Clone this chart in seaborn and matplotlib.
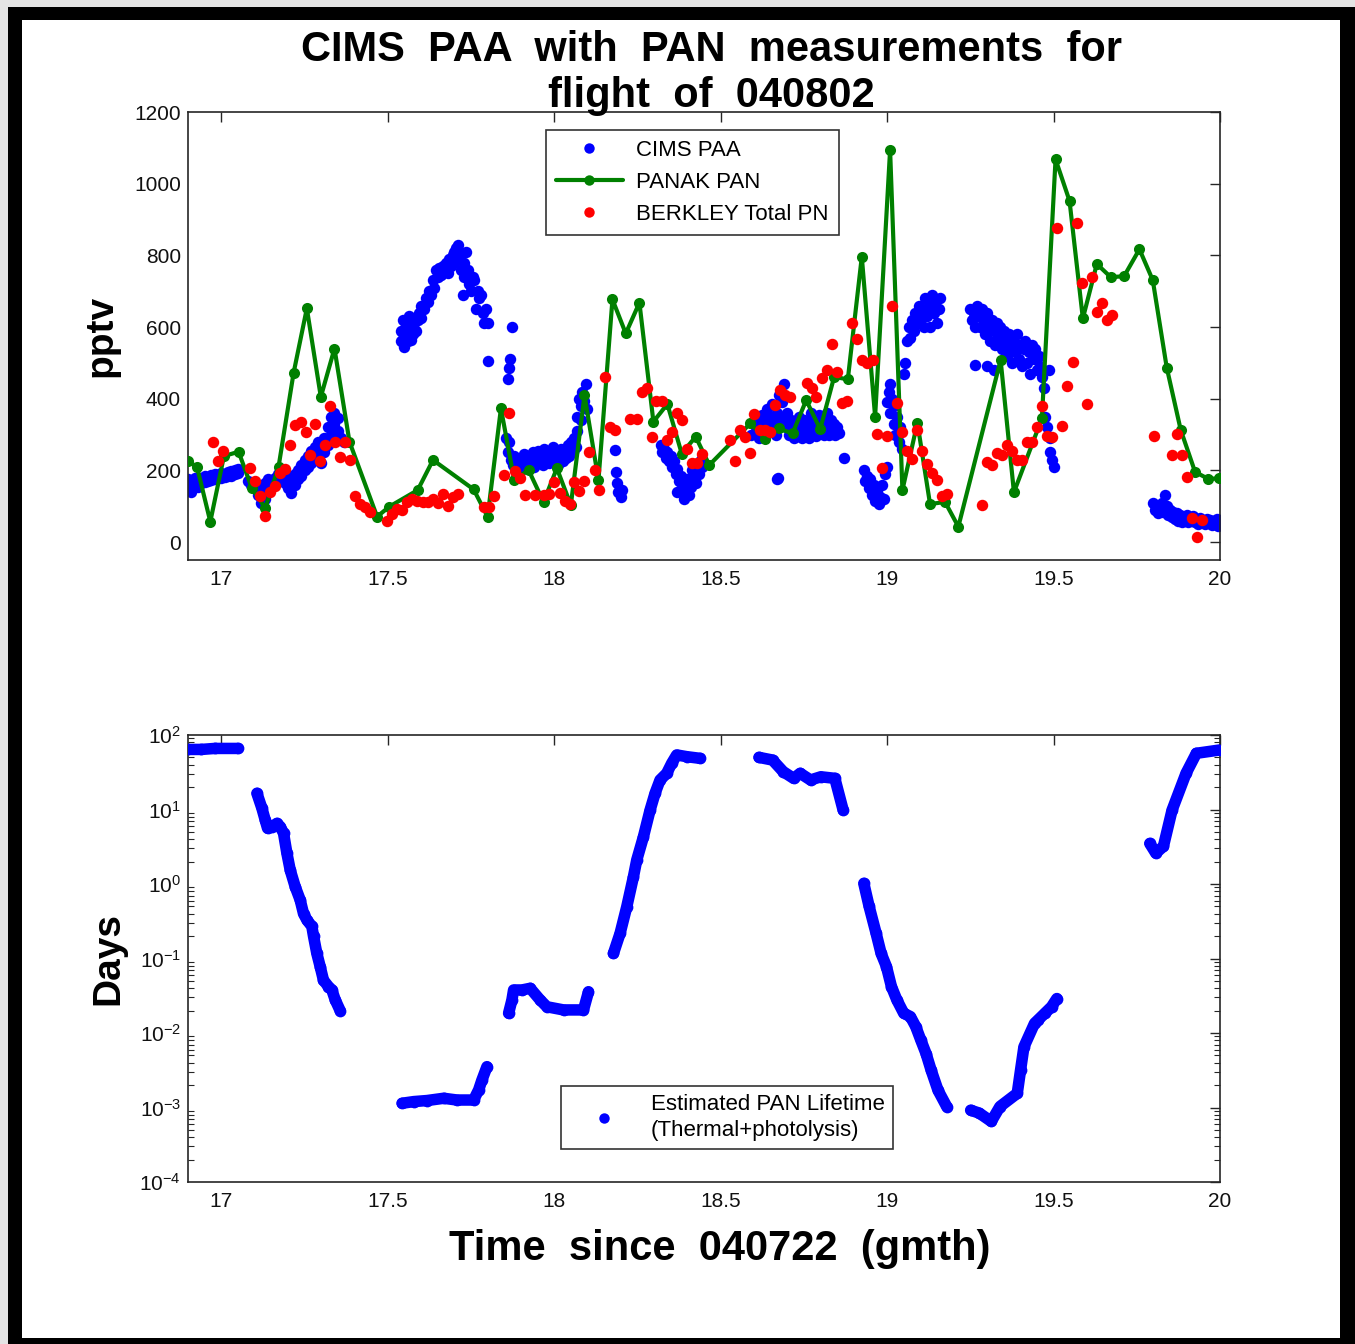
import numpy as np
import pandas as pd
import matplotlib
matplotlib.use("Agg")
import matplotlib.pyplot as plt
from matplotlib.lines import Line2D
from matplotlib.patches import Rectangle
from matplotlib.ticker import FixedLocator, FixedFormatter, LogLocator, NullFormatter
import seaborn as sns

# ---------------- data ----------------
# CIMS PAA (pptv) vs time since 040722 (hours, gmt)
paa_time = [
    16.90, 16.90, 16.91, 16.91, 16.92, 16.92, 16.93, 16.93, 16.94, 16.94, 16.95, 16.95,
    16.96, 16.96, 16.97, 16.97, 16.98, 16.98, 16.99, 16.99, 17.00, 17.00, 17.01, 17.01,
    17.02, 17.02, 17.03, 17.03, 17.04, 17.04, 17.05, 17.05,
    17.08, 17.09, 17.10, 17.11, 17.12, 17.12, 17.13, 17.13, 17.14, 17.14, 17.15, 17.16,
    17.17, 17.17, 17.18, 17.19, 17.19, 17.20, 17.20, 17.21, 17.21, 17.22, 17.22, 17.23,
    17.23, 17.24, 17.24, 17.25, 17.25, 17.26, 17.26, 17.27, 17.27, 17.28, 17.28, 17.29,
    17.29, 17.30, 17.30, 17.31, 17.31, 17.32, 17.32, 17.33, 17.33, 17.34, 17.34, 17.35,
    17.35, 17.36, 17.37,
    17.54, 17.54, 17.545, 17.55, 17.55, 17.555, 17.56, 17.56, 17.565, 17.57, 17.57, 17.575,
    17.58, 17.585, 17.59, 17.595, 17.60, 17.60, 17.61, 17.615, 17.62, 17.625, 17.63, 17.635,
    17.64, 17.645, 17.65, 17.655, 17.66, 17.665, 17.67, 17.675, 17.68, 17.685, 17.69, 17.695,
    17.70, 17.70, 17.705, 17.71, 17.71, 17.715, 17.72, 17.72, 17.725, 17.73, 17.73, 17.735,
    17.74, 17.745, 17.75, 17.755, 17.76, 17.765, 17.77, 17.775, 17.78, 17.785, 17.79, 17.795,
    17.80, 17.80, 17.86, 17.865, 17.868, 17.873,
    17.855, 17.86, 17.865, 17.87, 17.875, 17.88, 17.885, 17.89, 17.895, 17.90, 17.905, 17.91,
    17.915, 17.92, 17.925, 17.93, 17.935, 17.94, 17.945, 17.95, 17.955, 17.96, 17.965, 17.97,
    17.975, 17.98, 17.985, 17.99, 17.995, 18.00, 18.005, 18.01, 18.015, 18.02, 18.025, 18.03,
    18.035, 18.04, 18.045, 18.05, 18.055, 18.06, 18.065, 18.07, 18.075, 18.08, 18.085, 18.09,
    18.095, 18.10, 18.08, 18.07,
    18.183, 18.186, 18.19, 18.193, 18.20, 18.203,
    18.32, 18.325, 18.33, 18.335, 18.34, 18.345, 18.35, 18.355, 18.36, 18.365, 18.37, 18.375,
    18.38, 18.385, 18.39, 18.395, 18.40, 18.405, 18.41, 18.415, 18.42, 18.425, 18.43, 18.435,
    18.44, 18.445, 18.37, 18.39,
    18.59, 18.60, 18.605, 18.61, 18.615, 18.62, 18.625, 18.63, 18.635, 18.64, 18.645, 18.65,
    18.655, 18.66, 18.665, 18.67, 18.675, 18.68, 18.685, 18.69, 18.695, 18.70, 18.705, 18.71,
    18.715, 18.72, 18.725, 18.73, 18.735, 18.74, 18.745, 18.75, 18.755, 18.76, 18.765, 18.77,
    18.775, 18.78, 18.785, 18.79, 18.795, 18.80, 18.805, 18.81, 18.815, 18.82, 18.825, 18.83,
    18.835, 18.84, 18.845, 18.85, 18.855, 18.668, 18.672, 18.87,
    18.93, 18.935, 18.94, 18.945, 18.95, 18.955, 18.96, 18.965, 18.97, 18.975, 18.98, 18.985,
    18.99, 18.995, 19.00, 19.00, 19.005, 19.01, 19.01, 19.015, 19.02, 19.02, 19.025, 19.03,
    19.035, 19.04, 19.045, 19.05, 19.055, 19.06, 19.065, 19.07, 19.075, 19.08, 19.085, 19.09,
    19.095, 19.10, 19.105, 19.11, 19.115, 19.12, 19.125, 19.13, 19.135, 19.14, 19.145, 19.15,
    19.155, 19.16,
    19.25, 19.255, 19.26, 19.265, 19.265, 19.27, 19.275, 19.28, 19.285, 19.29, 19.295, 19.30,
    19.305, 19.31, 19.315, 19.32, 19.325, 19.33, 19.335, 19.34, 19.345, 19.35, 19.355, 19.36,
    19.365, 19.37, 19.375, 19.38, 19.385, 19.39, 19.395, 19.40, 19.405, 19.41, 19.415, 19.42,
    19.425, 19.43, 19.435, 19.44, 19.445, 19.45, 19.455, 19.46, 19.465, 19.47, 19.475, 19.48,
    19.485, 19.49, 19.49, 19.495, 19.50, 19.30, 19.32,
    19.80, 19.805, 19.81, 19.815, 19.82, 19.825, 19.83, 19.835, 19.84, 19.845, 19.85, 19.855,
    19.86, 19.865, 19.87, 19.875, 19.88, 19.885, 19.89, 19.895, 19.90, 19.905, 19.91, 19.915,
    19.92, 19.925, 19.93, 19.935, 19.94, 19.945, 19.95, 19.955, 19.96, 19.965, 19.97, 19.975,
    19.98, 19.985, 19.99, 19.995, 20.00,
]
paa_pptv = [
    150, 175, 140, 165, 160, 180, 155, 172, 165, 180, 168, 185,
    170, 182, 172, 188, 175, 190, 178, 185, 180, 192, 182, 190,
    185, 195, 185, 198, 190, 200, 192, 205,
    170, 160, 150, 130, 110, 150, 120, 165, 150, 175, 165, 180,
    170, 190, 175, 165, 195, 150, 185, 136, 170, 160, 190, 175,
    200, 185, 215, 200, 229, 210, 240, 220, 255, 230, 265, 240,
    280, 220, 255, 250, 290, 270, 320, 300, 350, 330, 360, 310,
    345, 290, 280,
    560, 590, 620, 545, 575, 605, 560, 590, 630, 565, 600, 580,
    610, 590, 620, 640, 625, 660, 650, 680, 670, 700, 690, 730,
    710, 760, 740, 765, 745, 770, 760, 780, 750, 790, 770, 800,
    780, 810, 820, 790, 829, 810, 760, 800, 690, 740, 780, 810,
    760, 720, 700, 740, 730, 650, 700, 680, 690, 640, 610, 650,
    505, 610, 455, 485, 510, 600,
    290, 250, 280, 230, 215, 240, 210, 225, 200, 235, 215, 245,
    220, 205, 240, 225, 250, 210, 235, 255, 225, 245, 215, 260,
    230, 250, 220, 240, 265, 230, 250, 215, 240, 260, 225, 255,
    235, 270, 240, 280, 250, 290, 265, 310, 400, 380, 420, 395,
    440, 370, 340, 350,
    257, 196, 165, 140, 125, 145,
    270, 250, 260, 235, 250, 225, 240, 210, 225, 190, 205, 170,
    185, 150, 160, 135, 175, 130, 155, 200, 180, 165, 210, 190,
    230, 210, 140, 120,
    300, 330, 310, 340, 290, 325, 355, 300, 335, 370, 315, 350,
    385, 330, 300, 360, 410, 340, 390, 440, 320, 360, 300, 340,
    310, 290, 330, 300, 350, 320, 290, 340, 305, 330, 290, 360,
    310, 345, 295, 330, 355, 310, 340, 300, 325, 360, 300, 340,
    310, 330, 300, 320, 305, 175, 180, 235,
    200, 170, 185, 150, 175, 130, 160, 115, 140, 105, 125, 160,
    120, 190, 210, 390, 420, 360, 440, 400, 330, 380, 300, 350,
    280, 320, 260, 470, 500, 560, 600, 570, 620, 590, 640, 610,
    660, 620, 650, 600, 680, 630, 660, 600, 690, 640, 670, 610,
    650, 680,
    650, 620, 640, 495, 600, 660, 630, 600, 650, 620, 580, 640,
    600, 560, 620, 590, 550, 610, 570, 600, 540, 590, 560, 520,
    580, 545, 500, 560, 530, 580, 510, 550, 490, 540, 560, 500,
    530, 470, 550, 510, 540, 480, 520, 490, 460, 430, 350, 320,
    480, 290, 250, 230, 210, 490, 480,
    110, 90, 100, 80, 95, 110, 85, 130, 100, 75, 90, 70,
    85, 65, 80, 60, 75, 55, 70, 62, 75, 55, 68, 60,
    72, 55, 65, 50, 68, 55, 60, 50, 65, 55, 62, 48,
    60, 50, 65, 45, 60,
]

# PANAK PAN (pptv)
pan_time = [
    16.90, 16.927, 16.967, 17.008, 17.052, 17.092, 17.132, 17.172, 17.217, 17.257, 17.299,
    17.340, 17.385, 17.468, 17.505, 17.590, 17.636, 17.758, 17.800, 17.840, 17.880, 17.923,
    17.968, 18.008, 18.050, 18.091, 18.133, 18.175, 18.215, 18.256, 18.298, 18.340, 18.383,
    18.425, 18.466, 18.589, 18.634, 18.674, 18.716, 18.757, 18.799, 18.841, 18.882, 18.924,
    18.964, 19.009, 19.046, 19.091, 19.129, 19.174, 19.214, 19.341, 19.381, 19.465, 19.506,
    19.548, 19.588, 19.630, 19.672, 19.712, 19.758, 19.798, 19.840, 19.882, 19.925, 19.965,
    19.998,
]
pan_pptv = [
    225, 210, 57, 240, 252, 150, 95, 210, 471, 652, 405,
    540, 280, 71, 99, 145, 229, 147, 71, 373, 173, 201,
    112, 206, 103, 410, 173, 677, 582, 668, 336, 385, 247,
    294, 215, 331, 289, 317, 303, 396, 315, 461, 454, 796,
    350, 1094, 145, 333, 106, 112, 43, 508, 139, 345, 1068,
    952, 624, 776, 739, 742, 817, 731, 487, 313, 196, 176,
    178,
]

# BERKLEY Total PN (pptv)
pn_time = [
    16.974, 17.004, 16.989, 17.087, 17.102, 17.117, 17.132, 17.147, 17.160, 17.177, 17.192,
    17.207, 17.222, 17.239, 17.254, 17.282, 17.267, 17.297, 17.312, 17.327, 17.342, 17.357,
    17.372, 17.387, 17.402, 17.417, 17.432, 17.447, 17.497, 17.512, 17.529, 17.544, 17.557,
    17.572, 17.589, 17.605, 17.620, 17.635, 17.650, 17.665, 17.680, 17.695, 17.710, 17.790,
    17.805, 17.820, 17.865, 17.850, 17.883, 17.898, 17.913,
    17.943, 17.968, 17.983, 18.000, 18.018, 18.033, 18.048, 18.060, 18.076, 18.091, 18.105,
    18.123, 18.136, 18.153, 18.168, 18.183, 18.228, 18.248, 18.263, 18.280, 18.293, 18.306,
    18.323, 18.338, 18.353, 18.368, 18.385, 18.398, 18.413, 18.428, 18.443, 18.529, 18.544,
    18.559, 18.574, 18.587, 18.601, 18.619, 18.634, 18.649, 18.664, 18.679, 18.694, 18.709,
    18.759, 18.774, 18.786, 18.804, 18.819, 18.834, 18.849, 18.864, 18.879, 18.894, 18.910,
    18.925, 18.940, 18.958,
    18.969, 18.999, 19.014, 19.029, 18.984, 19.044, 19.059, 19.074, 19.089, 19.106, 19.121,
    19.136, 19.151, 19.166, 19.181, 19.284, 19.299, 19.314, 19.329, 19.344, 19.359, 19.374,
    19.389, 19.406, 19.419, 19.434, 19.449, 19.465, 19.480, 19.495, 19.510, 19.524, 19.541,
    19.557, 19.570, 19.600, 19.585, 19.615, 19.630, 19.647, 19.662, 19.677, 19.802, 19.855,
    19.870, 19.885, 19.902, 19.915, 19.945, 19.932,
]
pn_pptv = [
    280, 255, 227, 208, 171, 129, 73, 139, 157, 194, 204,
    271, 327, 336, 308, 329, 243, 227, 271, 380, 278, 236,
    278, 229, 129, 106, 97, 83, 59, 78, 92, 89, 111,
    120, 115, 111, 111, 120, 108, 134, 101, 126, 134, 97,
    97, 129, 359, 187, 199, 178, 131,
    131, 131, 134, 167, 136, 115, 106, 167, 143, 171, 250,
    201, 145, 461, 322, 313, 343, 343, 419, 429, 294, 394,
    394, 285, 308, 359, 340, 261, 220, 220, 246, 285, 227,
    313, 292, 249, 356, 313, 313, 308, 382, 424, 410, 405,
    443, 429, 405, 457, 480, 554, 475, 387, 394, 610, 568,
    508, 499, 508,
    301, 296, 659, 387, 206, 308, 255, 231, 313, 255, 218,
    192, 173, 129, 134, 103, 224, 215, 249, 243, 271, 255,
    229, 229, 280, 280, 320, 380, 296, 294, 877, 324, 436,
    503, 889, 384, 724, 740, 643, 666, 621, 633, 296, 243,
    301, 243, 182, 66, 61, 13,
]

# Estimated PAN lifetime (days); each run is one continuous stretch of the flight
life_run = [1] * 4 + [2] * 23 + [3] * 9 + [4] * 10 + [5] * 14 + [6] * 9 + [7] * 15 + [8] * 12 + [9] * 7
life_time = [
    16.90, 16.94, 16.98, 17.05,
    17.107, 17.122, 17.132, 17.139, 17.152, 17.167, 17.177, 17.187, 17.197, 17.207, 17.222,
    17.237, 17.247, 17.257, 17.272, 17.277, 17.287, 17.297, 17.307, 17.322, 17.332, 17.342,
    17.357,
    17.543, 17.578, 17.618, 17.668, 17.708, 17.758, 17.773, 17.783, 17.798,
    17.863, 17.873, 17.878, 17.903, 17.928, 17.958, 17.978, 18.028, 18.088, 18.103,
    18.178, 18.198, 18.218, 18.238, 18.248, 18.268, 18.288, 18.303, 18.318, 18.338, 18.353,
    18.368, 18.398, 18.438,
    18.615, 18.656, 18.688, 18.719, 18.739, 18.770, 18.801, 18.843, 18.868,
    18.930, 18.946, 18.967, 18.982, 18.998, 19.013, 19.029, 19.050, 19.070, 19.086, 19.101,
    19.117, 19.132, 19.153, 19.179,
    19.251, 19.277, 19.313, 19.339, 19.391, 19.401, 19.411, 19.443, 19.453, 19.474, 19.494,
    19.510,
    19.789, 19.807, 19.830, 19.856, 19.898, 19.929, 20.000,
]
life_days = [
    64, 64, 66, 66,
    16.5, 10.4, 7.2, 5.6, 5.9, 6.5, 5.9, 4.8, 2.6, 1.54, 0.92,
    0.61, 0.40, 0.33, 0.27, 0.20, 0.117, 0.078, 0.051, 0.042, 0.038, 0.028,
    0.020,
    0.00114, 0.00120, 0.00124, 0.00133, 0.00126, 0.00126, 0.00172, 0.00234, 0.00353,
    0.0184, 0.0277, 0.0378, 0.0378, 0.0398, 0.0277, 0.0225, 0.0204, 0.0204, 0.0358,
    0.117, 0.218, 0.495, 1.25, 2.1, 4.3, 9.8, 16.5, 24.9, 30.6, 41.7,
    54.0, 51.2, 48.6,
    50.1, 46.1, 32.2, 26.2, 30.6, 24.9, 27.5, 26.2, 9.8,
    1.02, 0.50, 0.218, 0.117, 0.078, 0.042, 0.028, 0.0184, 0.0166, 0.0122, 0.0081,
    0.0053, 0.0032, 0.0017, 0.00103,
    0.00092, 0.00084, 0.00065, 0.00103, 0.00155, 0.0032, 0.0065, 0.0135, 0.0149, 0.0184, 0.0225,
    0.029,
    3.5, 2.6, 3.2, 9.8, 30.6, 56.8, 63,
]

x_ticks = [17, 17.5, 18, 18.5, 19, 19.5, 20]
x_tick_labels = ["17", "17.5", "18", "18.5", "19", "19.5", "20"]
pptv_ticks = [0, 200, 400, 600, 800, 1000, 1200]

# ---------------- style ----------------
sns.set_style("white")
plt.rcParams["font.family"] = ["Liberation Sans", "DejaVu Sans"]
plt.rcParams["mathtext.fontset"] = "custom"
plt.rcParams["mathtext.rm"] = "Liberation Sans"
plt.rcParams["mathtext.it"] = "Liberation Sans:italic"
plt.rcParams["mathtext.bf"] = "Liberation Sans:bold"
plt.rcParams["text.color"] = "black"
plt.rcParams["axes.labelcolor"] = "black"

BLUE = (0.0, 0.0, 1.0)
GREEN = (0.0, 0.5, 0.0)
RED = (1.0, 0.0, 0.0)
AXC = "#262626"

W, H = 1355, 1344
fig = plt.figure(figsize=(W / 100, H / 100), dpi=100)
fig.patch.set_facecolor("#e4e4e4")


def px_rect(x0, y0, x1, y1, color):
    fig.patches.append(Rectangle((x0 / W, 1 - y1 / H), (x1 - x0) / W, (y1 - y0) / H,
                                 transform=fig.transFigure, facecolor=color,
                                 edgecolor="none", zorder=-10))


# black frame around the white page
px_rect(8, 7, W, H, "black")
px_rect(22, 20, 1340, 1338, "white")

ax1 = fig.add_axes([188 / W, 1 - 560 / H, 1032 / W, 448 / H])
ax2 = fig.add_axes([188 / W, 1 - 1182 / H, 1032 / W, 447 / H])
for ax in (ax1, ax2):
    ax.set_facecolor("white")

paa = pd.DataFrame({"t": paa_time, "v": paa_pptv})
pan = pd.DataFrame({"t": pan_time, "v": pan_pptv})
pn = pd.DataFrame({"t": pn_time, "v": pn_pptv})
life = pd.DataFrame({"t": life_time, "d": life_days, "run": life_run})

DOT = 68  # marker area, pt^2

# ---------- top panel ----------
sns.scatterplot(data=paa, x="t", y="v", ax=ax1, color=BLUE, s=DOT, linewidth=0, zorder=2)
sns.lineplot(data=pan, x="t", y="v", ax=ax1, color=GREEN, lw=3.0, marker="o",
             markersize=8.0, markeredgewidth=0, sort=False, estimator=None, zorder=3)
sns.scatterplot(data=pn, x="t", y="v", ax=ax1, color=RED, s=DOT, linewidth=0, zorder=4)

ax1.set_xlim(16.9, 20.0)
ax1.set_ylim(-50, 1200)
ax1.yaxis.set_major_locator(FixedLocator(pptv_ticks))
ax1.set_ylabel("pptv", fontsize=28, fontweight="bold")
ax1.yaxis.set_label_coords(-0.066, 0.5)
ax1.set_xlabel("")

handles = [
    Line2D([], [], ls="none", marker="o", color=BLUE, markersize=7.5, markeredgewidth=0),
    Line2D([], [], ls="-", lw=3.0, marker="o", color=GREEN, markersize=7.5, markeredgewidth=0),
    Line2D([], [], ls="none", marker="o", color=RED, markersize=7.5, markeredgewidth=0),
]
leg1 = ax1.legend(handles, ["CIMS PAA", "PANAK PAN", "BERKLEY Total PN"],
                  loc="upper left", bbox_to_anchor=(546 / W, 1 - 130 / H),
                  bbox_transform=fig.transFigure, borderaxespad=0, fontsize=16,
                  frameon=True, fancybox=False, framealpha=1, edgecolor="#333333",
                  handlelength=3.0, handletextpad=0.6, labelspacing=0.5, borderpad=0.45)
leg1.get_frame().set_linewidth(1.2)

# ---------- bottom panel ----------
sns.lineplot(data=life, x="t", y="d", units="run", estimator=None, sort=False, ax=ax2,
             color=BLUE, lw=8.3, solid_capstyle="round", solid_joinstyle="round", zorder=2)
sns.scatterplot(data=life, x="t", y="d", ax=ax2, color=BLUE, s=72, linewidth=0, zorder=3)
ax2.set_yscale("log")
ax2.set_xlim(16.9, 20.0)
ax2.set_ylim(1e-4, 1e2)
ax2.yaxis.set_major_locator(LogLocator(base=10, numticks=10))
ax2.yaxis.set_minor_locator(LogLocator(base=10, subs=np.arange(2, 10), numticks=20))
ax2.yaxis.set_minor_formatter(NullFormatter())
ax2.set_ylabel("Days", fontsize=28, fontweight="bold")
ax2.yaxis.set_label_coords(-0.06, 0.5)
ax2.set_xlabel("Time  since  040722  (gmth)", fontsize=30, fontweight="bold")
ax2.xaxis.set_label_coords(0.515, -0.105)

leg2 = ax2.legend([Line2D([], [], ls="none", marker="o", color=BLUE, markersize=7.5,
                          markeredgewidth=0)],
                  ["Estimated PAN Lifetime\n(Thermal+photolysis)"],
                  loc="upper left", bbox_to_anchor=(561 / W, 1 - 1086 / H),
                  bbox_transform=fig.transFigure, borderaxespad=0, fontsize=16,
                  frameon=True, fancybox=False, framealpha=1, edgecolor="#333333",
                  handlelength=3.2, handletextpad=0.5, borderpad=0.35)
leg2.get_frame().set_linewidth(1.2)
for t in leg2.get_texts():
    t.set_linespacing(1.35)

for ax in (ax1, ax2):
    ax.xaxis.set_major_locator(FixedLocator(x_ticks))
    ax.xaxis.set_major_formatter(FixedFormatter(x_tick_labels))
    ax.tick_params(which="major", direction="in", length=7.5, width=1.0, color=AXC,
                   labelsize=15, labelcolor="#111111", top=True, right=True)
    ax.tick_params(axis="x", pad=7)
    ax.tick_params(axis="y", pad=5)
    for sp in ax.spines.values():
        sp.set_visible(True)
        sp.set_color(AXC)
        sp.set_linewidth(1.2)
    ax.grid(False)

ax2.tick_params(which="minor", direction="in", length=4, width=0.8, color=AXC,
                left=True, right=True, top=False, bottom=False)

fig.suptitle("CIMS  PAA  with  PAN  measurements  for\nflight  of  040802",
             x=0.525, y=1 - 73 / H, ha="center", va="center", color="black",
             fontsize=30, fontweight="bold", linespacing=1.22)

fig.savefig("out.png", dpi=100, facecolor=fig.get_facecolor())
